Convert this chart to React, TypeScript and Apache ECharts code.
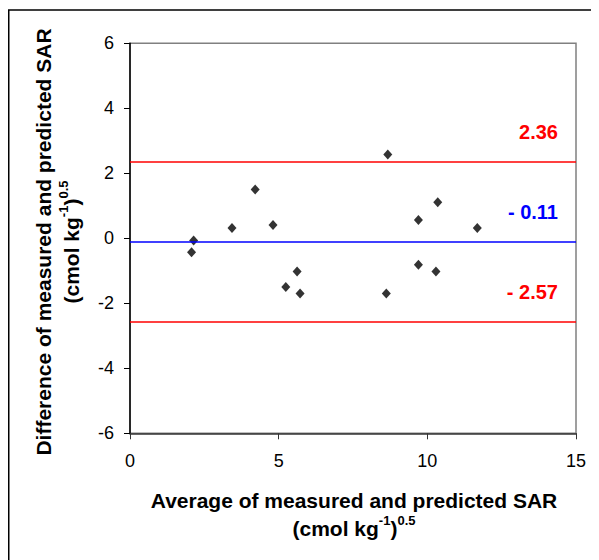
import React, { useEffect, useRef } from "react";
import * as echarts from "echarts";

const avgValues = [2.07, 2.14, 3.43, 4.21, 4.81, 5.24, 5.62, 5.72, 8.67, 8.62, 9.7, 9.7, 10.35, 10.29, 11.68];
const diffValues = [-0.43, -0.07, 0.32, 1.5, 0.41, -1.5, -1.02, -1.7, 2.58, -1.7, 0.56, -0.81, 1.11, -1.02, 0.32];
const upperLimit = 2.36;
const meanDiff = -0.11;
const lowerLimit = -2.57;
const xTicks = [0, 5, 10, 15];
const yTicks = [-6, -4, -2, 0, 2, 4, 6];

const FONT = "'Liberation Sans', Arial, sans-serif";

export default function App() {
  const ref = useRef<HTMLDivElement>(null);
  useEffect(() => {
    if (!ref.current) return;
    const chart = echarts.init(ref.current, undefined, { renderer: "svg" });
    const points = avgValues.map((x, i) => [x, diffValues[i]]);
    const fmt = (v: number) => (v < 0 ? "- " + Math.abs(v).toFixed(2) : v.toFixed(2));
    const titleRich = {
      b: { fontFamily: FONT, fontSize: 21, fontWeight: "bold", color: "#000", lineHeight: 28 },
      s: { fontFamily: FONT, fontSize: 13, fontWeight: "bold", color: "#000", lineHeight: 28, verticalAlign: "top", padding: [0, 0, 12, 0] },
    };
    chart.setOption({
      animation: false,
      grid: {
        left: 122,
        right: 23,
        top: 35.3,
        bottom: 126.7,
        show: true,
        borderColor: "#808080",
        borderWidth: 1.5,
        backgroundColor: "transparent",
      },
      xAxis: {
        type: "value",
        min: xTicks[0],
        max: xTicks[xTicks.length - 1],
        interval: 5,
        splitLine: { show: false },
        axisLine: { show: true, onZero: false, lineStyle: { color: "#333", width: 1.5 } },
        axisTick: { show: true, length: 6, lineStyle: { color: "#333", width: 1 } },
        axisLabel: { color: "#000", fontFamily: FONT, fontSize: 18, margin: 19 },
      },
      yAxis: {
        type: "value",
        min: yTicks[0],
        max: yTicks[yTicks.length - 1],
        interval: 2,
        splitLine: { show: false },
        axisLine: { show: true, onZero: false, lineStyle: { color: "#000", width: 1.5 } },
        axisTick: { show: true, length: 6, lineStyle: { color: "#000", width: 1 } },
        axisLabel: { color: "#000", fontFamily: FONT, fontSize: 18, margin: 16 },
      },
      series: [
        {
          type: "scatter",
          data: points,
          symbol: "diamond",
          symbolSize: [9, 10],
          itemStyle: { color: "#000" },
          markLine: {
            silent: true,
            symbol: "none",
            animation: false,
            data: [
              { yAxis: upperLimit, lineStyle: { color: "#ff0000", width: 1.5, type: "solid" }, label: { color: "#ff0000" } },
              { yAxis: meanDiff, lineStyle: { color: "#0000ff", width: 1.5, type: "solid" }, label: { color: "#0000ff" } },
              { yAxis: lowerLimit, lineStyle: { color: "#ff0000", width: 1.5, type: "solid" }, label: { color: "#ff0000" } },
            ],
            label: {
              show: true,
              position: "insideEndTop",
              distance: [18, 20],
              fontFamily: FONT,
              fontSize: 20,
              fontWeight: "bold",
              formatter: (p: any) => fmt(p.value),
            },
          },
        },
      ],
      graphic: [
        {
          type: "rect",
          shape: { x: 0.75, y: 2, width: 640, height: 640 },
          style: { fill: "none", stroke: "#000", lineWidth: 1.5 },
          silent: true,
        },
        {
          type: "text",
          x: 346,
          y: 506,
          style: {
            text: "{b|Average of measured and predicted SAR}\n{b|(cmol kg}{s|-1}{b|)}{s|0.5}",
            rich: titleRich,
            align: "center",
            verticalAlign: "middle",
          },
        },
        {
          type: "text",
          x: 49,
          y: 234,
          rotation: Math.PI / 2,
          style: {
            text: "{b|Difference of measured and predicted SAR}\n{b|(cmol kg}{s|-1}{b|)}{s|0.5}",
            rich: titleRich,
            align: "center",
            verticalAlign: "middle",
          },
        },
      ],
    });
    return () => chart.dispose();
  }, []);
  return <div ref={ref} style={{ width: 591, height: 552 }} />;
}
